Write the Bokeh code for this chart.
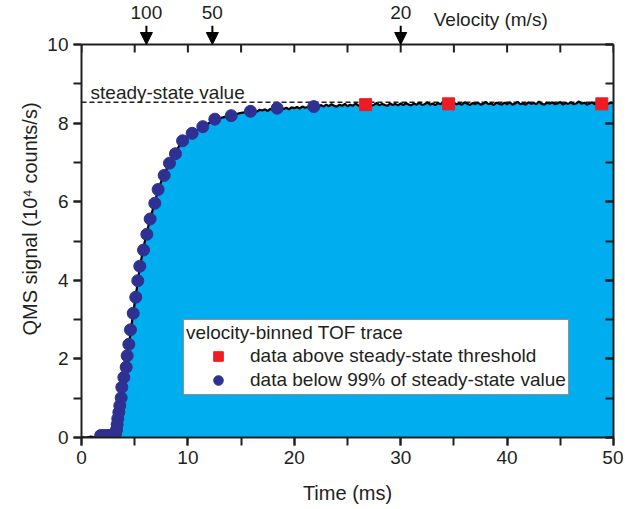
from bokeh.plotting import figure
from bokeh.models import (Range1d, LinearAxis, SingleIntervalTicker, Legend, LegendItem,
                          Arrow, NormalHead, ColumnDataSource, LabelSet, Label, Span)
from bokeh.core.properties import value
from bokeh.embed import file_html
from bokeh.resources import INLINE

# ---------------- data ----------------
# rising part of the TOF trace (time in ms, signal in 1e4 counts/s)
rise_t = [0.0, 0.4, 0.8, 1.2, 1.6, 2.0, 2.4, 2.8, 3.0, 3.2, 3.35, 3.5, 3.6, 3.75, 3.9,
          4.05, 4.2, 4.35, 4.5, 4.7, 4.9, 5.1, 5.3, 5.5, 5.8, 6.1, 6.45, 6.9, 7.2, 7.75,
          8.25, 8.8, 9.45, 10.4, 11.4, 12.0, 12.5, 13.2, 14.1, 15.0, 15.75]
rise_y = [0.01, 0.0, 0.02, 0.01, 0.02, 0.03, 0.04, 0.05, 0.06, 0.1, 0.3, 0.55, 0.78, 1.08, 1.38,
          1.65, 1.9, 2.18, 2.45, 2.85, 3.25, 3.6, 3.99, 4.36, 4.8, 5.18, 5.56, 6.0, 6.3, 6.7,
          6.98, 7.23, 7.55, 7.75, 7.92, 8.0, 8.08, 8.14, 8.2, 8.26, 8.29]

# noisy plateau of the trace, sampled every 0.25 ms from 16 ms on
plateau_start = 16.0
plateau_step = 0.25
plateau_y = [
    8.30, 8.33, 8.29, 8.34, 8.32, 8.35, 8.31, 8.36, 8.34, 8.37, 8.33, 8.38, 8.36, 8.39, 8.35,
    8.40, 8.38, 8.41, 8.37, 8.42, 8.39, 8.41, 8.44, 8.40, 8.43,
    8.41, 8.46, 8.42, 8.47, 8.43, 8.48, 8.44, 8.42, 8.47, 8.44, 8.49, 8.43, 8.47, 8.44, 8.50,
    8.45, 8.43, 8.48, 8.45, 8.49, 8.44, 8.47, 8.51, 8.45, 8.49, 8.46, 8.44, 8.50, 8.46, 8.49, 8.45,
    8.50, 8.46, 8.51, 8.47, 8.45, 8.50, 8.47, 8.52, 8.46, 8.48, 8.53, 8.47, 8.50, 8.46, 8.51,
    8.48, 8.54, 8.47, 8.49, 8.46, 8.52, 8.48, 8.50, 8.47, 8.53, 8.49, 8.46, 8.51, 8.48, 8.52,
    8.47, 8.49, 8.54, 8.48, 8.50, 8.46, 8.52, 8.49, 8.47,
    8.52, 8.48, 8.53, 8.47, 8.50, 8.54, 8.48, 8.50, 8.47, 8.53, 8.49, 8.51, 8.48, 8.55, 8.49,
    8.47, 8.52, 8.49, 8.53, 8.48, 8.50, 8.54, 8.47, 8.51, 8.49, 8.53, 8.48, 8.50, 8.55, 8.49,
    8.52, 8.47, 8.50, 8.53, 8.48, 8.51, 8.49, 8.54, 8.50,
    8.49, 8.52, 8.50]

trace_t = rise_t + [plateau_start + plateau_step * i for i in range(len(plateau_y))]
trace_y = rise_y + plateau_y

# velocity-binned points below 99% of steady state
below_t = [1.8, 2.1, 2.4, 2.65, 2.85, 3.05, 3.2, 3.29, 3.35, 3.41, 3.51, 3.6, 3.73, 3.79, 3.98,
           4.2, 4.29, 4.45, 4.6, 4.86, 5.1, 5.29, 5.48, 5.83, 6.14, 6.45, 6.89, 7.2, 7.77,
           8.27, 8.83, 9.5, 10.4, 11.4, 12.53, 14.07, 15.88, 18.39, 21.83]
below_y = [0.05, 0.05, 0.05, 0.05, 0.06, 0.07, 0.1, 0.2, 0.33, 0.48, 0.64, 0.81, 1.01, 1.28, 1.53,
           1.79, 2.08, 2.37, 2.74, 3.16, 3.57, 3.99, 4.36, 4.77, 5.17, 5.56, 5.96, 6.31, 6.67,
           6.98, 7.22, 7.55, 7.74, 7.91, 8.1, 8.19, 8.3, 8.38, 8.42]

# velocity-binned points above the steady-state threshold
above_t = [26.7, 34.5, 48.9]
above_y = [8.47, 8.49, 8.49]

steady_value = 8.53

velocity_labels = ["100", "50", "20"]
velocity_times = [6.1, 12.3, 30.0]

x_ticks = [0, 5, 10, 15, 20, 25, 30, 35, 40, 45, 50]   # tick marks on the top frame edge

# ---------------- styling ----------------
FONT = "Liberation Sans"
INK = "#231f20"
FILL = "#00aeef"
BLUE = "#2e3192"
RED = "#ed1c24"

Y_MAX = 10.0
Y_VIEW = 11.12          # room above the frame for the velocity scale

p = figure(width=623, height=507, x_range=Range1d(0, 50), y_range=Range1d(0, Y_VIEW),
           output_backend="svg", toolbar_location=None,
           min_border_left=81, min_border_right=10, min_border_top=0, min_border_bottom=70)
p.xgrid.visible = False
p.ygrid.visible = False
p.outline_line_color = None
p.background_fill_color = "white"
p.border_fill_color = "white"

def style_axis(ax, interval):
    ax.ticker = SingleIntervalTicker(interval=interval, num_minor_ticks=2)
    ax.axis_line_color = INK
    ax.axis_line_width = 2
    ax.major_tick_line_color = INK
    ax.minor_tick_line_color = INK
    ax.major_tick_line_width = 2
    ax.minor_tick_line_width = 2
    ax.major_label_text_font = FONT
    ax.major_label_text_font_size = "19px"
    ax.major_label_text_color = INK
    ax.axis_label_text_font = FONT
    ax.axis_label_text_font_size = "20px"
    ax.axis_label_text_font_style = "normal"
    ax.axis_label_text_color = INK

xa = p.xaxis[0]
style_axis(xa, 10)
xa.major_tick_out = 8
xa.major_tick_in = 0
xa.minor_tick_out = 8
xa.minor_tick_in = 0
xa.major_label_standoff = 5
xa.axis_label = "Time (ms)"
xa.axis_label_standoff = 15

ya = p.yaxis[0]
style_axis(ya, 2)
ya.bounds = (0, Y_MAX)
ya.major_tick_out = 8
ya.major_tick_in = 0
ya.minor_tick_out = 8
ya.minor_tick_in = 0
ya.major_label_standoff = 5
ya.axis_label = "QMS signal (10\u2074 counts/s)"
ya.axis_label_standoff = 3

right = LinearAxis()
style_axis(right, 2)
right.bounds = (0, Y_MAX)
right.major_tick_in = 8
right.major_tick_out = 0
right.minor_tick_in = 8
right.minor_tick_out = 0
right.major_label_standoff = 0
right.major_label_text_font_size = "1px"
right.major_label_text_color = None
p.add_layout(right, "right")

# fill under the trace
p.varea(x=trace_t, y1=[0] * len(trace_t), y2=trace_y, fill_color=FILL)

# steady-state dashed line
p.add_layout(Span(location=steady_value, dimension="width", line_color=INK,
                  line_width=1.6, line_dash="5 3", level="underlay"))
p.add_layout(Label(x=0.85, y=8.78, text="steady-state value", text_font=FONT,
                   text_font_size="19px", text_color=INK, text_baseline="alphabetic"))

# TOF trace
p.line(trace_t, trace_y, line_color="black", line_width=2.2)

r_c = p.scatter(below_t, below_y, marker="circle", size=12, fill_color=BLUE, line_color=BLUE)
r_sq = p.scatter(above_t, above_y, marker="square", size=12, fill_color=RED, line_color=RED)

# top edge of the frame with inward ticks
p.add_layout(Span(location=Y_MAX, dimension="width", line_color=INK, line_width=2))
tick_len = 8 / 39.3
p.segment(x0=x_ticks, y0=[Y_MAX] * len(x_ticks), x1=x_ticks,
          y1=[Y_MAX - tick_len] * len(x_ticks), line_color=INK, line_width=2)

# velocity arrows on top
vsrc = ColumnDataSource(dict(x=velocity_times, y0=[10.48] * len(velocity_times),
                             y1=[Y_MAX] * len(velocity_times),
                             yl=[10.64] * len(velocity_times), text=velocity_labels))
p.add_layout(Arrow(end=NormalHead(size=12, fill_color="black", line_color="black"),
                   x_start="x", y_start="y0", x_end="x", y_end="y1", source=vsrc,
                   line_color="black", line_width=2))
p.add_layout(LabelSet(x="x", y="yl", text="text", source=vsrc, text_align="center",
                      text_baseline="alphabetic", text_font=value(FONT),
                      text_font_size=value("19px"), text_color=INK))
p.add_layout(Label(x=33.1, y=10.64, text="Velocity (m/s)", text_font=FONT,
                   text_font_size="19px", text_color=INK, text_baseline="alphabetic"))

legend = Legend(items=[LegendItem(label="data above steady-state threshold", renderers=[r_sq]),
                       LegendItem(label="data below 99% of steady-state value", renderers=[r_c])],
                title="velocity-binned TOF trace", location=(102, 42), margin=0, padding=2,
                glyph_width=64, glyph_height=24, label_height=22, label_standoff=0, spacing=0,
                title_standoff=0, title_text_font=FONT, title_text_font_size="19px",
                title_text_font_style="normal", title_text_color=INK,
                label_text_font=FONT, label_text_font_size="19px", label_text_color=INK,
                border_line_color=INK, border_line_width=1.5, background_fill_alpha=1.0)
p.add_layout(legend)

open("out.html", "w").write(file_html(p, INLINE))
